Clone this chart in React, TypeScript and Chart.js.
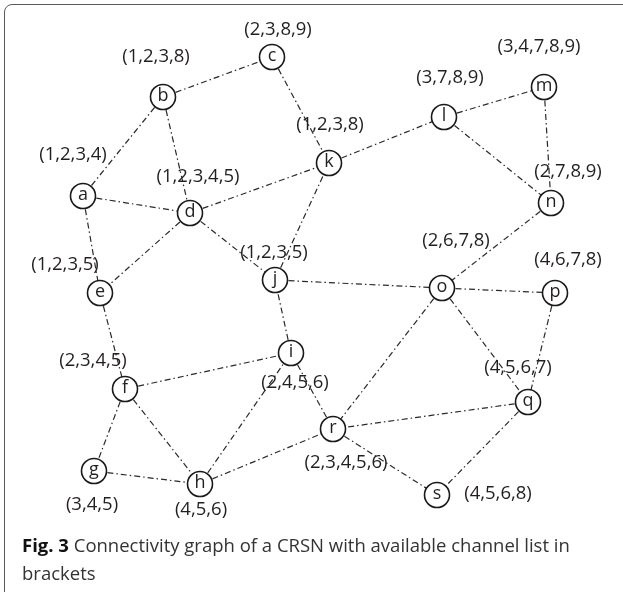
import React, { useEffect, useRef } from "react";
import { Chart, registerables } from "chart.js";

Chart.register(...registerables);

const nodeNames = ["a","b","c","d","e","f","g","h","i","j","k","l","m","n","o","p","q","r","s"];
const nodeX = [83, 163, 272, 190, 100, 125, 94, 200, 291, 275, 329, 444, 544, 551, 442, 555, 528, 333, 437];
const nodeY = [196, 97, 57, 213, 293, 389, 471, 484, 353, 280, 163, 117, 87, 203, 288, 293, 402, 429, 495];
const channelLists = ["(1,2,3,4)","(1,2,3,8)","(2,3,8,9)","(1,2,3,4,5)","(1,2,3,5)","(2,3,4,5)","(3,4,5)","(4,5,6)","(2,4,5,6)","(1,2,3,5)","(1,2,3,8)","(3,7,8,9)","(3,4,7,8,9)","(2,7,8,9)","(2,6,7,8)","(4,6,7,8)","(4,5,6,7)","(2,3,4,5,6)","(4,5,6,8)"];
const labelX = [73, 156, 278, 198, 65, 93, 92, 201, 295, 274, 330, 450, 539, 568, 456, 568, 518, 346, 498];
const labelY = [155, 57, 30, 177, 265, 361, 505, 510, 383, 253, 125, 78, 47, 172, 241, 260, 368, 463, 494];
const edgeFrom = ["a","a","a","b","b","c","d","d","d","e","f","f","f","g","h","h","i","i","j","j","k","l","l","m","n","o","o","o","p","q","q","r"];
const edgeTo   = ["b","d","e","c","d","k","k","e","j","f","i","g","h","h","i","r","j","r","k","o","l","m","n","n","o","p","r","q","q","r","s","s"];

const W = 623;
const H = 592;

export default function App() {
  const ref = useRef<HTMLCanvasElement | null>(null);
  useEffect(() => {
    if (!ref.current) return;
    const idx = (n: string) => nodeNames.indexOf(n);
    const edgeSets = edgeFrom.map((f, k) => {
      const a = idx(f), b = idx(edgeTo[k]);
      return {
        type: "line" as const,
        data: [{ x: nodeX[a], y: nodeY[a] }, { x: nodeX[b], y: nodeY[b] }],
        borderColor: "#2a2a2a",
        borderWidth: 1.2,
        borderDash: [6, 3, 1.5, 3],
        pointRadius: 0,
        showLine: true,
        fill: false,
        order: 2,
      };
    });
    const nodeSet = {
      type: "scatter" as const,
      data: nodeNames.map((_, k) => ({ x: nodeX[k], y: nodeY[k] })),
      pointRadius: 12.5,
      pointHoverRadius: 12.5,
      pointBackgroundColor: "#ffffff",
      pointBorderColor: "#1a1a1a",
      pointBorderWidth: 1.6,
      order: 0,
    };
    const textPlugin = {
      id: "texts",
      afterDatasetsDraw(chart: any) {
        const ctx = chart.ctx;
        const xs = chart.scales.x, ys = chart.scales.y;
        ctx.save();
        ctx.fillStyle = "#231f20";
        ctx.textAlign = "center";
        ctx.textBaseline = "middle";
        ctx.font = "18px 'Open Sans'";
        nodeNames.forEach((n, k) => {
          ctx.fillText(n, xs.getPixelForValue(nodeX[k]), ys.getPixelForValue(nodeY[k]) - 1);
        });
        ctx.font = "18.5px 'Open Sans'";
        channelLists.forEach((t, k) => {
          ctx.fillText(t, xs.getPixelForValue(labelX[k]), ys.getPixelForValue(labelY[k]));
        });
        ctx.restore();
      },
    };
    const chart = new Chart(ref.current, {
      type: "scatter",
      data: { datasets: [nodeSet as any, ...(edgeSets as any)] },
      options: {
        animation: false,
        responsive: false,
        maintainAspectRatio: false,
        layout: { padding: 0, autoPadding: false },
        plugins: { legend: { display: false }, tooltip: { enabled: false }, title: { display: false } },
        events: [],
        scales: {
          x: { type: "linear", min: 0, max: W, display: false, offset: false },
          y: { type: "linear", min: 0, max: H, reverse: true, display: false, offset: false },
        },
      },
      plugins: [textPlugin],
    });
    return () => chart.destroy();
  }, []);
  return (
    <div style={{ position: "fixed", left: 0, top: 0, width: W, height: H, background: "#fff", overflow: "hidden" }}>
      <canvas ref={ref} width={W} height={H} style={{ position: "absolute", left: 0, top: 0, width: W, height: H }} />
      <div style={{ position: "absolute", left: 4, top: 4, width: W + 20, height: H + 20, border: "1.5px solid #5a5a5a", borderRadius: 8, boxSizing: "border-box", pointerEvents: "none" }} />
      <div style={{ position: "absolute", left: 22, top: 531, width: 580, fontFamily: "'Open Sans'", fontSize: 18.5, lineHeight: "28px", color: "#333" }}>
        <b style={{ color: "#111" }}>Fig. 3</b> Connectivity graph of a CRSN with available channel list in brackets
      </div>
    </div>
  );
}
